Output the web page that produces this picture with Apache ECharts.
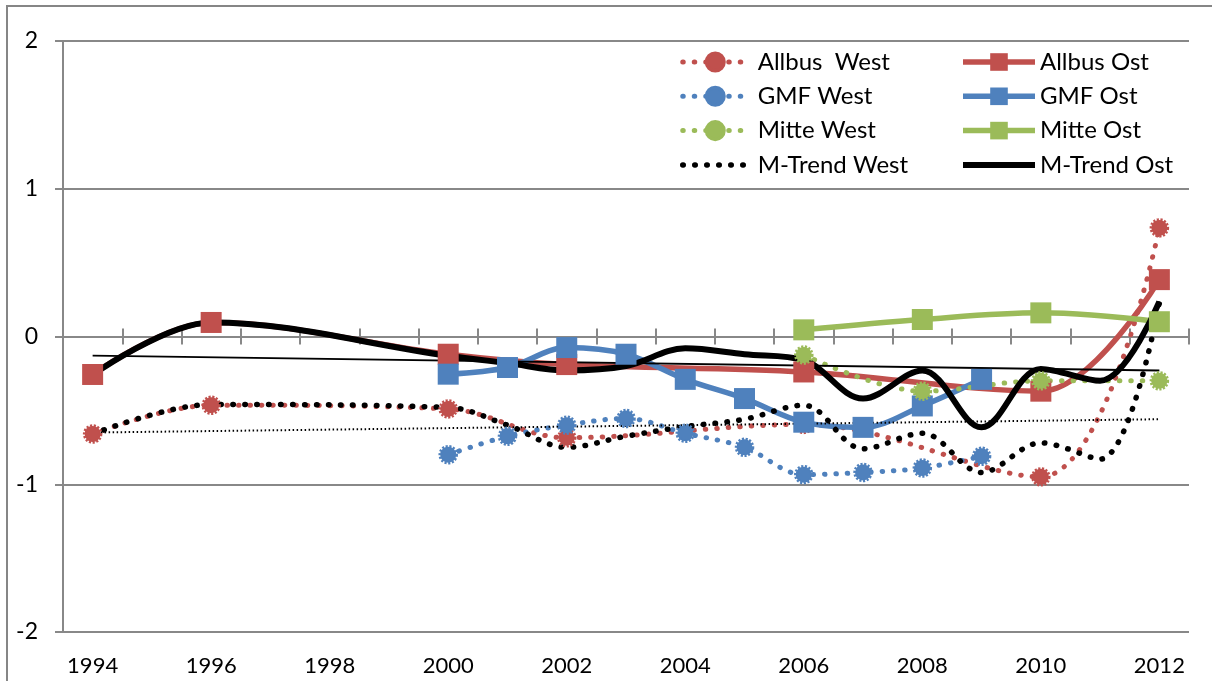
<!DOCTYPE html>
<html><head><meta charset="utf-8">
<script src="https://cdn.jsdelivr.net/npm/echarts@6/dist/echarts.min.js"></script>
<style>html,body{margin:0;padding:0;background:#fff}#c{width:1212px;height:681px}</style>
</head><body><div id="c"></div>
<script>
// categories 1994..2012
const years = ['1994','1995','1996','1997','1998','1999','2000','2001','2002','2003','2004','2005','2006','2007','2008','2009','2010','2011','2012'];
const yTicks = [-2, -1, 0, 1, 2];

const allbusWest = [-0.66,null,-0.465,null,null,null,-0.49,null,-0.685,null,null,null,-0.595,null,null,null,-0.95,null,0.735];
const allbusOst  = [-0.257,null,0.095,null,null,null,-0.12,null,-0.19,null,null,null,-0.24,null,null,null,-0.37,null,0.385];
const gmfWest    = [null,null,null,null,null,null,-0.80,-0.675,-0.60,-0.555,-0.655,-0.75,-0.935,-0.92,-0.89,-0.81,null,null,null];
const gmfOst     = [null,null,null,null,null,null,-0.255,-0.21,-0.075,-0.12,-0.29,-0.42,-0.58,-0.615,-0.47,-0.29,null,null,null];
const mitteWest  = [null,null,null,null,null,null,null,null,null,null,null,null,-0.125,null,-0.37,null,-0.30,null,-0.30];
const mitteOst   = [null,null,null,null,null,null,null,null,null,null,null,null,0.045,null,0.115,null,0.16,null,0.10];
const mTrendWest = [-0.66,null,-0.46,null,null,null,-0.48,-0.60,-0.75,-0.675,-0.61,-0.56,-0.465,-0.76,-0.655,-0.92,-0.72,-0.83,0.23];
const mTrendOst  = [-0.26,null,0.095,null,null,null,-0.13,-0.18,-0.23,-0.20,-0.08,-0.12,-0.16,-0.42,-0.23,-0.615,-0.22,-0.30,0.235];
const trendWest  = [-0.65,null,null,null,null,null,null,null,null,null,null,null,null,null,null,null,null,null,-0.56];
const trendOst   = [-0.13,null,null,null,null,null,null,null,null,null,null,null,null,null,null,null,null,null,-0.23];

const RED = '#C0504D', BLUE = '#4F81BD', GREEN = '#9BBB59', BLACK = '#000000', GRAY = '#888888';
const FONT = 'Lato';
const SMOOTH = 0.35;

function dotted(name, data, color) {
  return {
    name, type: 'line', data, connectNulls: true, smooth: SMOOTH, showAllSymbol: true,
    symbol: 'circle', symbolSize: 16,
    itemStyle: { color, borderColor: color, borderWidth: 3.5, borderType: [2, 1.5] },
    lineStyle: { color, width: 5, type: [0.5, 11], cap: 'round' },
    emphasis: { disabled: true }
  };
}
function solid(name, data, color) {
  return {
    name, type: 'line', data, connectNulls: true, smooth: SMOOTH, showAllSymbol: true,
    symbol: 'rect', symbolSize: 21,
    itemStyle: { color },
    lineStyle: { color, width: 5.5 },
    emphasis: { disabled: true }
  };
}

const series = [
  dotted('Allbus  West', allbusWest, RED),
  solid('Allbus Ost', allbusOst, RED),
  dotted('GMF West', gmfWest, BLUE),
  solid('GMF Ost', gmfOst, BLUE),
  dotted('Mitte West', mitteWest, GREEN),
  solid('Mitte Ost', mitteOst, GREEN),
  { name: 'M-Trend West', type: 'line', data: mTrendWest, connectNulls: true, smooth: SMOOTH,
    symbol: 'none', lineStyle: { color: BLACK, width: 5.5, type: [0.5, 11.5], cap: 'round' }, itemStyle: { color: BLACK },
    emphasis: { disabled: true } },
  { name: 'M-Trend Ost', type: 'line', data: mTrendOst, connectNulls: true, smooth: SMOOTH,
    symbol: 'none', lineStyle: { color: BLACK, width: 6 }, itemStyle: { color: BLACK },
    emphasis: { disabled: true } },
  { name: 'trendWest', type: 'line', data: trendWest, connectNulls: true, symbol: 'none',
    lineStyle: { color: BLACK, width: 2, type: [1.5, 2.5] }, emphasis: { disabled: true } },
  { name: 'trendOst', type: 'line', data: trendOst, connectNulls: true, symbol: 'none',
    lineStyle: { color: BLACK, width: 1.8 }, emphasis: { disabled: true } }
];

const legendText = { fontFamily: FONT, fontSize: 24, color: '#000', lineHeight: 24 };
const legendLine = { width: 'inherit', type: 'inherit', cap: 'inherit' };
const chart = echarts.init(document.getElementById('c'), null, { renderer: 'canvas' });
chart.setOption({
  animation: false,
  backgroundColor: '#fff',
  graphic: [{ type: 'rect', shape: { x: 7, y: 6, width: 1300, height: 800 }, style: { fill: 'none', stroke: '#868686', lineWidth: 2 }, silent: true, z: -1 }],
  grid: { left: 63, right: 23, top: 41, bottom: 49 },
  legend: [
    { orient: 'vertical', left: 680, top: 50, padding: 0, itemGap: 10.3, itemWidth: 65, itemHeight: 22,
      lineStyle: legendLine, itemStyle: { borderWidth: 'inherit' },
      data: ['Allbus  West', 'GMF West', 'Mitte West', { name: 'M-Trend West', itemStyle: { opacity: 0 } }],
      textStyle: Object.assign({ padding: [0, 0, 0, 5] }, legendText), selectedMode: false },
    { orient: 'vertical', left: 960, top: 50, padding: 0, itemGap: 10.3, itemWidth: 72, itemHeight: 22,
      lineStyle: legendLine,
      data: ['Allbus Ost', 'GMF Ost', 'Mitte Ost', { name: 'M-Trend Ost', itemStyle: { opacity: 0 } }],
      textStyle: legendText, selectedMode: false }
  ],
  xAxis: [
    { type: 'category', data: years, position: 'bottom', boundaryGap: true,
      axisLine: { show: false, onZero: false }, axisTick: { show: false },
      axisLabel: { interval: 1, margin: 23, fontFamily: FONT, fontSize: 22, color: '#000' },
      splitLine: { show: false } },
    { type: 'category', data: years, position: 'bottom', boundaryGap: true,
      axisLine: { show: true, onZero: true, onZeroAxisIndex: 0, lineStyle: { color: GRAY, width: 2 } },
      axisTick: { show: true, interval: 0, inside: false, length: 8, lineStyle: { color: GRAY, width: 2 } },
      axisLabel: { show: false }, splitLine: { show: false } },
    { type: 'category', data: years, position: 'bottom', boundaryGap: true,
      axisLine: { show: false, onZero: true, onZeroAxisIndex: 0 },
      axisTick: { show: true, interval: 0, inside: true, length: 8, lineStyle: { color: GRAY, width: 2 } },
      axisLabel: { show: false }, splitLine: { show: false } }
  ],
  yAxis: {
    type: 'value', min: yTicks[0], max: yTicks[yTicks.length - 1], interval: 1,
    axisLine: { show: true, lineStyle: { color: GRAY, width: 2 } },
    axisTick: { show: true, length: 8, lineStyle: { color: GRAY, width: 2 } },
    axisLabel: { margin: 25, fontFamily: FONT, fontSize: 23, color: '#000' },
    splitLine: { show: true, lineStyle: { color: GRAY, width: 2 } }
  },
  series
});
</script></body></html>
